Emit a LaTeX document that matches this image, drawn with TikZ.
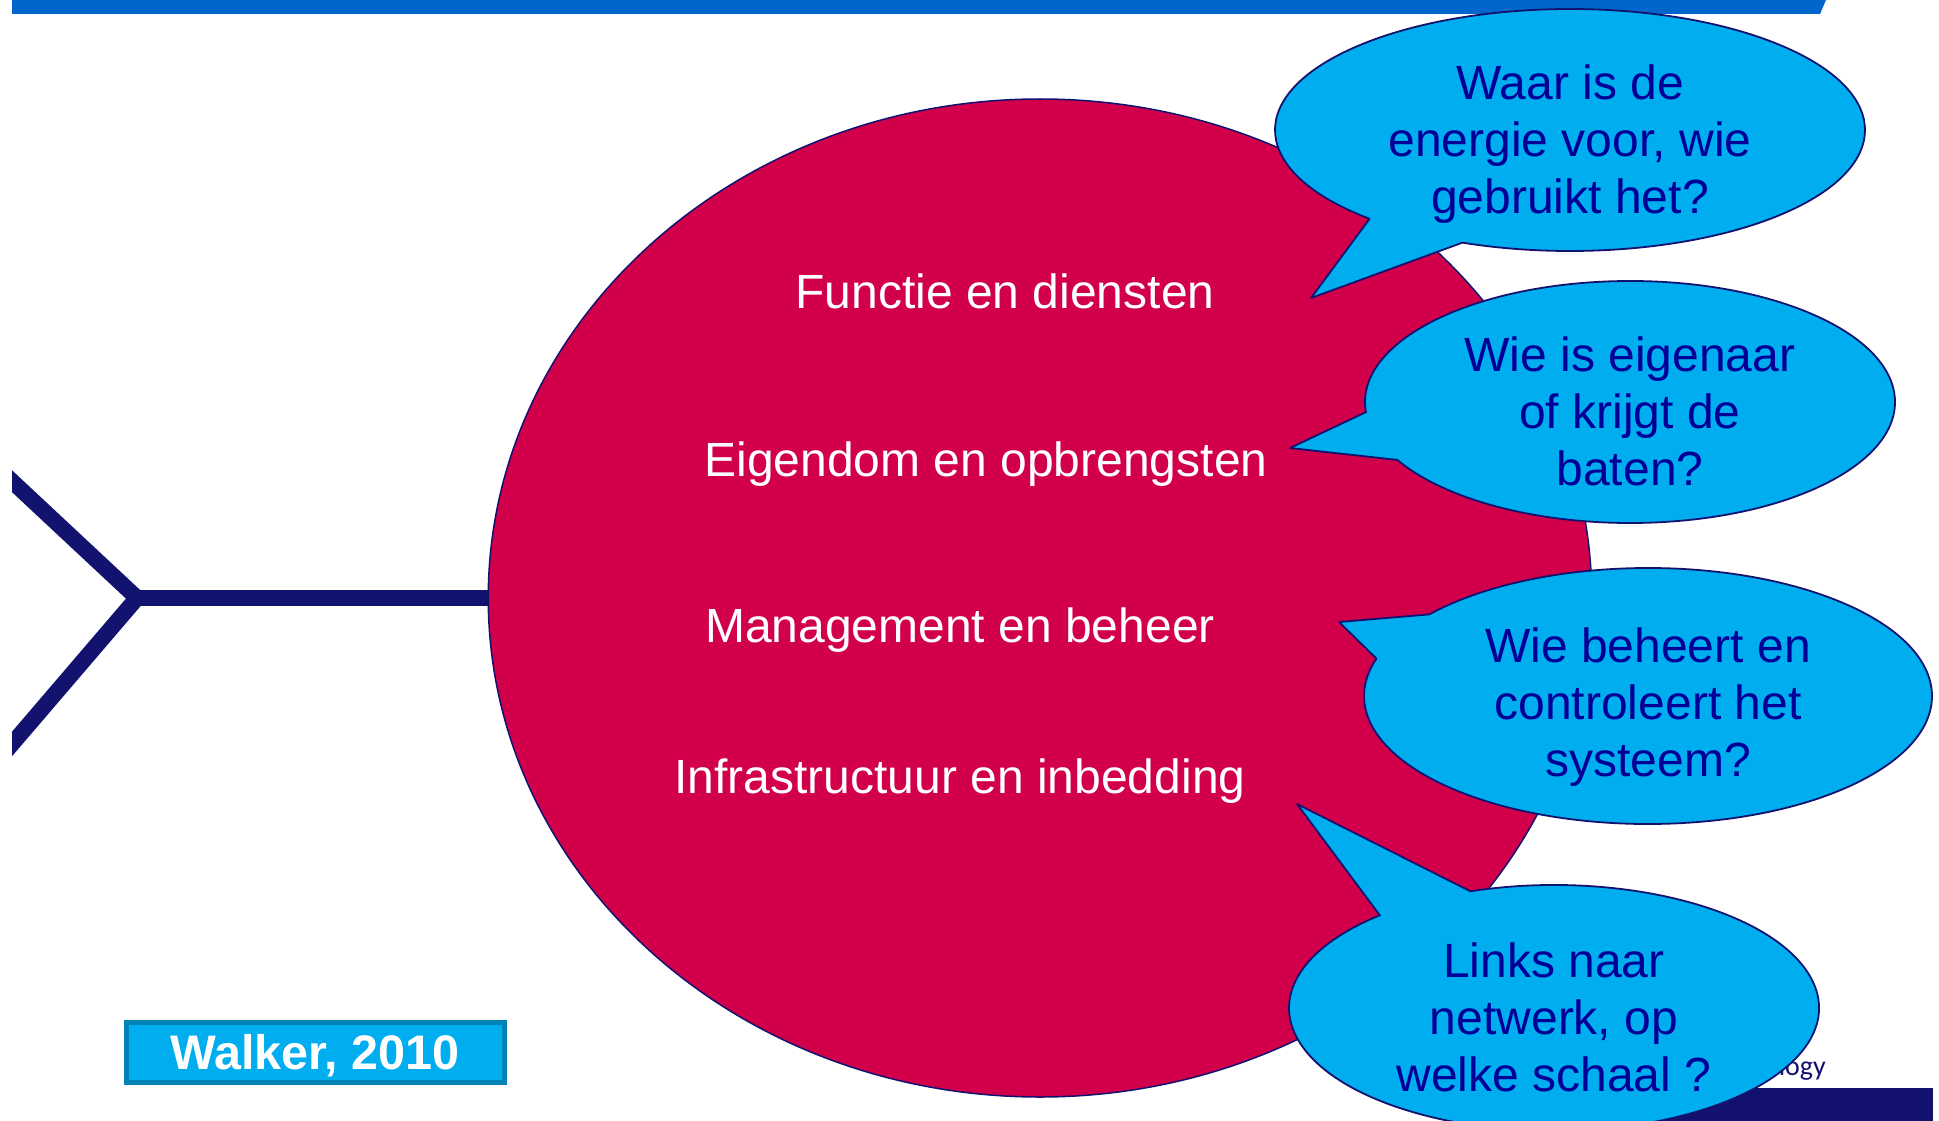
\documentclass[tikz,border=0pt]{standalone}
\usepackage{fontspec}
\setmainfont{Liberation Sans}
\newfontfamily\logofont{Carlito}
\usetikzlibrary{calc}

\definecolor{barblue}{HTML}{0066CC}
\definecolor{navy}{HTML}{12126F}
\definecolor{ringred}{HTML}{D2004B}
\definecolor{bubblefill}{HTML}{00ADEE}
\definecolor{bubbletext}{HTML}{000096}
\definecolor{tagborder}{HTML}{0083B6}
\definecolor{logonavy}{HTML}{13116E}

\begin{document}
\begin{tikzpicture}[x=1pt,y=1pt,
  bubble/.style={fill=bubblefill, draw=navy, line width=1.8pt, line join=round},
  asks/.style={text=bubbletext, align=center, inner sep=0pt,
               font=\fontsize{48}{57}\selectfont},
  theme/.style={text=white, anchor=base, inner sep=0pt,
                font=\fontsize{48}{57}\selectfont},
  spine/.style={navy, line width=16pt},
]
\useasboundingbox[fill=white] (0,0) rectangle (1939,-1121);
\clip (0,0) rectangle (1939,-1121);

% header bar with slanted right end
\fill[barblue] (12,0) -- (1826,0) -- (1820,-14) -- (12,-14) -- cycle;

% fishbone tail and spine
\begin{scope}
  \clip (12,0) rectangle (620,-1121);
  \draw[spine, line join=miter] (0,-470) -- (137,-598) -- (0,-758);
  \draw[spine] (137,-598) -- (580,-598);
\end{scope}

% fish head
\draw[fill=ringred, draw=navy, line width=1.5pt]
  (1040,-598) ellipse [x radius=551.75, y radius=499];

% themes inside the head
\node[theme] (functie)   at (1005,-308) {Functie en diensten};
\node[theme] (eigendom)  at (986,-476)  {Eigendom en opbrengsten};
\node[theme] (management) at (960,-642) {Management en beheer};
\node[theme] (infra)     at (960,-793)  {Infrastructuur en inbedding};

% speech bubbles: pointer tip, then the long arc round the ellipse
\path[bubble] (1311,-298) -- ($(1570,-130)+(227.2:295 and 121)$)
  arc[start angle=227.2, end angle=-111.4, x radius=295, y radius=121] -- cycle;
\path[bubble] (1290,-448) -- ($(1630,-402)+(184.8:265 and 121)$)
  arc[start angle=184.8, end angle=-151.4, x radius=265, y radius=121] -- cycle;
\path[bubble] (1339,-622) -- ($(1648,-696)+(140.4:284 and 128)$)
  arc[start angle=140.4, end angle=-197, x radius=284, y radius=128] -- cycle;

% footer logo strip, partly under the last bubble
\fill[logonavy] (1480,-1088) rectangle (1933,-1121);
\node[anchor=base east, text=logonavy, inner sep=0pt,
      font=\logofont\fontsize{28}{32}\selectfont] (brand) at (1826,-1075) {ology};

\path[bubble] (1297,-804) -- ($(1554,-1008)+(108.4:265 and 123)$)
  arc[start angle=108.4, end angle=-228.9, x radius=265, y radius=123] -- cycle;

% bubble questions
\node[asks] (q1) at (1570,-144.5) {Waar is de\\energie voor, wie\\gebruikt het?};
\node[asks] (q2) at (1630,-411.5) {Wie is eigenaar\\of krijgt de\\baten?};
\node[asks] (q3) at (1648,-707)   {Wie beheert en\\controleert het\\systeem?};
\node[asks] (q4) at (1554,-1017)  {Links naar\\netwerk, op\\welke schaal ?};

% source tag
\node[draw=tagborder, fill=bubblefill, line width=5pt,
      minimum width=378pt, minimum height=60pt, inner sep=0pt,
      text=white, text depth=0pt, font=\bfseries\fontsize{48.5}{50}\selectfont]
  (source) at (315,-1052) {Walker, 2010};
\end{tikzpicture}
\end{document}
